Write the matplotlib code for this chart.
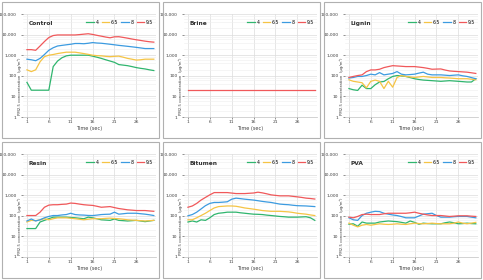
import numpy as np
import matplotlib
matplotlib.use("Agg")
import matplotlib.pyplot as plt
from matplotlib.patches import Rectangle
from matplotlib.ticker import FixedLocator, FuncFormatter, LogLocator, NullFormatter

time = np.arange(1, 31)
series_names = ['4', '6.5', '8', '9.5']
colors = ['#2fb56e', '#f5c445', '#3c9be0', '#f0585a']
panels = ['Control', 'Brine', 'Lignin', 'Resin', 'Bitumen', 'PVA']

control_4 = [48, 20, 20, 20, 20, 20, 280, 520, 750, 930, 1000, 1000, 1000, 1000, 1000, 900, 800, 700, 600, 520,
             450, 350, 330, 310, 280, 250, 230, 215, 195, 180]
control_65 = [195, 160, 195, 480, 850, 1000, 1080, 1200, 1300, 1400, 1400, 1400, 1300, 1200, 1100, 1000, 950, 930, 880, 850,
              880, 900, 800, 700, 640, 580, 600, 640, 640, 640]
control_8 = [640, 600, 540, 700, 1080, 1730, 2300, 2800, 3000, 3200, 3400, 3700, 3700, 3600, 3800, 4100, 3900, 3800, 3600, 3400,
             3200, 3000, 2850, 2700, 2550, 2400, 2250, 2100, 2100, 2100]
control_95 = [1860, 1860, 1730, 2800, 4600, 7200, 9000, 9600, 9600, 9600, 9600, 9600, 10000, 10500, 11000, 10200, 9200, 8400, 7600, 7000,
              7800, 7900, 7300, 6700, 6100, 5600, 5200, 4800, 4500, 4300]

brine_4 = [np.nan] * 30
brine_65 = [np.nan] * 30
brine_8 = [np.nan] * 30
brine_95 = [20] * 30

lignin_4 = [24, 21, 19.5, 35, 24, 24, 37, 50, 53, 72, 93, 103, 98, 93, 82, 72, 66, 62, 60, 58,
            56, 54, 56, 58, 56, 54, 52, 50, 50, 72]
lignin_65 = [64, 54, 50, 46, 26, 54, 62, 54, 24, 54, 28, 83, 103, 93, 88, 83, 88, 93, 88, 83,
             83, 83, 80, 78, 75, 72, 72, 72, 68, 64]
lignin_8 = [78, 83, 93, 93, 103, 120, 111, 143, 111, 120, 130, 160, 120, 111, 115, 120, 135, 150, 120, 111,
            111, 111, 107, 103, 107, 111, 100, 93, 82, 72]
lignin_95 = [83, 93, 103, 111, 160, 193, 193, 208, 250, 280, 310, 300, 290, 280, 280, 280, 265, 250, 230, 208,
             212, 215, 190, 172, 165, 160, 155, 150, 140, 130]

resin_4 = [24, 24, 24, 50, 60, 72, 86, 86, 86, 86, 83, 80, 76, 72, 86, 80, 72, 64, 62, 60,
           70, 60, 58, 56, 58, 60, 56, 52, 56, 60]
resin_65 = [50, 60, 58, 64, 72, 64, 72, 80, 80, 80, 76, 72, 68, 64, 68, 72, 72, 72, 75, 77,
            74, 72, 68, 64, 62, 60, 58, 56, 58, 60]
resin_8 = [56, 70, 56, 64, 80, 93, 103, 103, 110, 115, 133, 115, 110, 108, 104, 103, 108, 115, 118, 120,
           150, 120, 126, 133, 133, 133, 126, 120, 112, 103]
resin_95 = [103, 103, 103, 150, 260, 330, 345, 345, 360, 370, 415, 400, 370, 345, 330, 320, 290, 260, 270, 280,
            250, 225, 210, 195, 188, 180, 180, 180, 172, 165]

bitumen_4 = [50, 56, 50, 64, 60, 80, 115, 133, 140, 150, 150, 150, 140, 133, 126, 120, 118, 115, 108, 103,
             98, 93, 90, 86, 86, 86, 88, 90, 80, 60]
bitumen_65 = [64, 64, 80, 103, 133, 180, 240, 280, 290, 300, 300, 290, 265, 240, 225, 210, 195, 180, 172, 165,
              165, 165, 160, 155, 145, 133, 126, 120, 110, 103]
bitumen_8 = [100, 115, 150, 215, 310, 400, 445, 445, 460, 480, 640, 720, 680, 640, 610, 580, 540, 500, 470, 445,
             405, 370, 355, 345, 325, 310, 305, 300, 290, 280]
bitumen_95 = [260, 300, 400, 580, 780, 1040, 1340, 1340, 1340, 1340, 1270, 1200, 1200, 1200, 1240, 1280, 1400, 1300, 1170, 1040,
              980, 930, 930, 930, 880, 830, 780, 720, 690, 650]

pva_4 = [39, 41, 31, 50, 44, 44, 44, 50, 53, 56, 54, 52, 48, 44, 56, 48, 39, 44, 42, 41,
         41, 41, 46, 50, 46, 41, 42, 44, 42, 41]
pva_65 = [44, 35, 29, 35, 38, 35, 38, 41, 39, 38, 39, 41, 39, 38, 41, 44, 42, 41, 42, 44,
          42, 41, 41, 41, 44, 50, 44, 41, 44, 48]
pva_8 = [80, 64, 60, 103, 133, 150, 165, 160, 133, 120, 110, 103, 92, 80, 80, 80, 98, 120, 126, 133,
         103, 86, 86, 86, 90, 93, 93, 93, 86, 80]
pva_95 = [86, 80, 93, 115, 120, 115, 115, 115, 125, 133, 133, 133, 133, 133, 140, 150, 133, 120, 110, 103,
          103, 103, 98, 93, 96, 100, 100, 100, 96, 93]

panel_data = {
    'Control': [control_4, control_65, control_8, control_95],
    'Brine': [brine_4, brine_65, brine_8, brine_95],
    'Lignin': [lignin_4, lignin_65, lignin_8, lignin_95],
    'Resin': [resin_4, resin_65, resin_8, resin_95],
    'Bitumen': [bitumen_4, bitumen_65, bitumen_8, bitumen_95],
    'PVA': [pva_4, pva_65, pva_8, pva_95],
}

W, H = 483, 280
fig = plt.figure(figsize=(W / 100, H / 100), dpi=100)
fig.patch.set_facecolor('white')

for i, name in enumerate(panels):
    col, row = i % 3, i // 3
    x0, y0 = 2 + col * 161, 2 + row * 140
    # grey frame round each chart
    fig.patches.append(Rectangle((x0 / W, 1 - (y0 + 136) / H), 157 / W, 136 / H,
                                 transform=fig.transFigure, fill=False,
                                 edgecolor='#b0b0b0', linewidth=0.8))
    ax = fig.add_axes([(x0 + 21) / W, 1 - (y0 + 115) / H, 133 / W, 103 / H])
    for vals, lab, c in zip(panel_data[name], series_names, colors):
        ax.plot(time, vals, color=c, linewidth=0.9, label=lab)
    ax.set_yscale('log')
    ax.set_ylim(1, 100000)
    ax.set_xlim(0.1, 30.5)
    ax.xaxis.set_major_locator(FixedLocator([1, 6, 11, 16, 21, 26]))
    ax.yaxis.set_major_locator(LogLocator(base=10, numticks=10))
    ax.yaxis.set_minor_locator(LogLocator(base=10, subs=(2, 4, 6, 8), numticks=10))
    ax.yaxis.set_minor_formatter(NullFormatter())
    ax.yaxis.set_major_formatter(FuncFormatter(lambda v, p: f'{v:,.0f}'))
    ax.tick_params(axis='both', labelsize=3.2, colors='#404040', length=1.5, width=0.4, pad=1)
    ax.tick_params(axis='y', which='major', pad=3.2)
    ax.tick_params(axis='y', which='minor', length=0)
    ax.grid(True, which='major', color='#dcdcdc', linewidth=0.5)
    ax.grid(True, which='minor', axis='y', color='#eeeeee', linewidth=0.4)
    for s in ['top', 'right', 'left']:
        ax.spines[s].set_visible(False)
    ax.spines['bottom'].set_color('#c0c0c0')
    ax.spines['bottom'].set_linewidth(0.5)
    ax.set_xlabel('Time (sec)', fontsize=3.6, color='#404040', labelpad=1)
    ax.set_ylabel('PM2.5 concentration  (µg/m³)', fontsize=2.8, color='#404040')
    ax.yaxis.set_label_coords(-0.005, 0.3)
    ax.text(0.04, 0.93, name, transform=ax.transAxes, fontsize=4.2, fontweight='bold',
            color='#303030', va='top', ha='left')
    ax.legend(loc='upper right', bbox_to_anchor=(1.0, 0.97), ncol=4, frameon=False,
              fontsize=3.3, handlelength=1.6, handletextpad=0.4, columnspacing=0.7,
              borderaxespad=0.2)

fig.savefig('out.png', dpi=100)
